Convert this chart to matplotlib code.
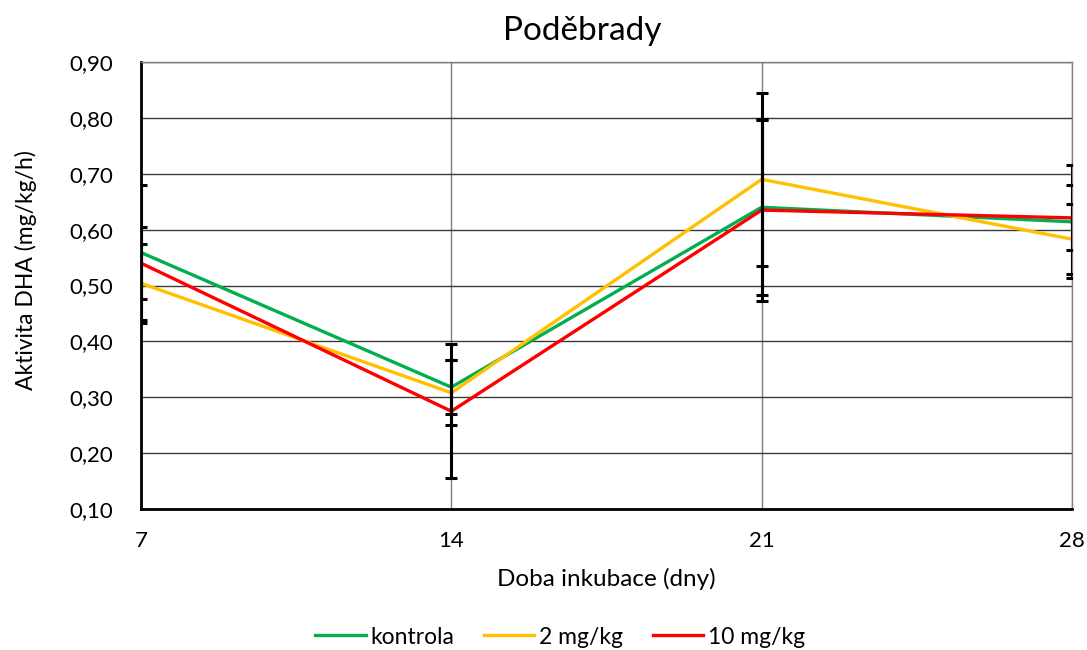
import matplotlib
matplotlib.use("Agg")
import matplotlib.pyplot as plt

days = [7, 14, 21, 28]
kontrola = [0.559, 0.318, 0.640, 0.614]
kontrola_err = [0.120, 0.048, 0.157, 0.101]
mg2 = [0.504, 0.308, 0.690, 0.583]
mg2_err = [0.071, 0.058, 0.155, 0.062]
mg10 = [0.540, 0.275, 0.635, 0.621]
mg10_err = [0.064, 0.120, 0.163, 0.058]
labels = ["kontrola", "2 mg/kg", "10 mg/kg"]
colors = ["#00B050", "#FFC000", "#FF0000"]

plt.rcParams['font.family'] = ['Lato', 'DejaVu Sans']

fig = plt.figure(figsize=(10.87, 6.5), dpi=100)
ax = fig.add_axes([141/1087, 1 - 509/650, (1072-141)/1087, (509-62)/650])

series = [(kontrola, kontrola_err), (mg2, mg2_err), (mg10, mg10_err)]
for (vals, errs), lab, c in zip(series, labels, colors):
    ax.plot(days, vals, color=c, lw=2.4, label=lab, zorder=3, solid_joinstyle='miter')
for (vals, errs) in series:
    ax.errorbar(days, vals, yerr=errs, fmt='none', ecolor='black', elinewidth=2.2,
                capsize=4.5, capthick=2.2, zorder=4)

ax.set_xlim(7, 28)
ax.set_ylim(0.10, 0.90)
ax.set_xticks(days)
ax.set_xticklabels([str(d) for d in days])
yt = [0.1 + 0.1 * i for i in range(9)]
ax.set_yticks(yt)
ax.set_yticklabels([f"{v:.2f}".replace('.', ',') for v in yt])
ax.tick_params(length=0, labelsize=16)
ax.tick_params(axis='y', pad=20)
ax.tick_params(axis='x', pad=16)
ax.grid(True, color='#3a3a3a', lw=1.0, zorder=0)
ax.xaxis.grid(True, color='#7f7f7f', lw=1.0)
for s in ['top', 'right']:
    ax.spines[s].set_color('#7f7f7f')
    ax.spines[s].set_linewidth(1.0)
ax.spines['left'].set_color('black')
ax.spines['left'].set_linewidth(2.0)
ax.spines['bottom'].set_color('black')
ax.spines['bottom'].set_linewidth(2.0)

ax.set_title("Poděbrady", fontsize=24, pad=16, x=0.474)
ax.set_xlabel("Doba inkubace (dny)", fontsize=17.5, labelpad=12)
ax.set_ylabel("Aktivita DHA (mg/kg/h)", fontsize=16.5, labelpad=3)
ax.yaxis.set_label_coords(-0.112, 0.535)

handles = ax.get_lines()[:3]
fig.legend(handles, labels, loc='center', bbox_to_anchor=(560/1087, 1 - 637/650),
           ncol=3, frameon=False, fontsize=16.5, handlelength=2.2, columnspacing=1.3,
           handletextpad=0.2)

fig.savefig("out.png", dpi=100)
